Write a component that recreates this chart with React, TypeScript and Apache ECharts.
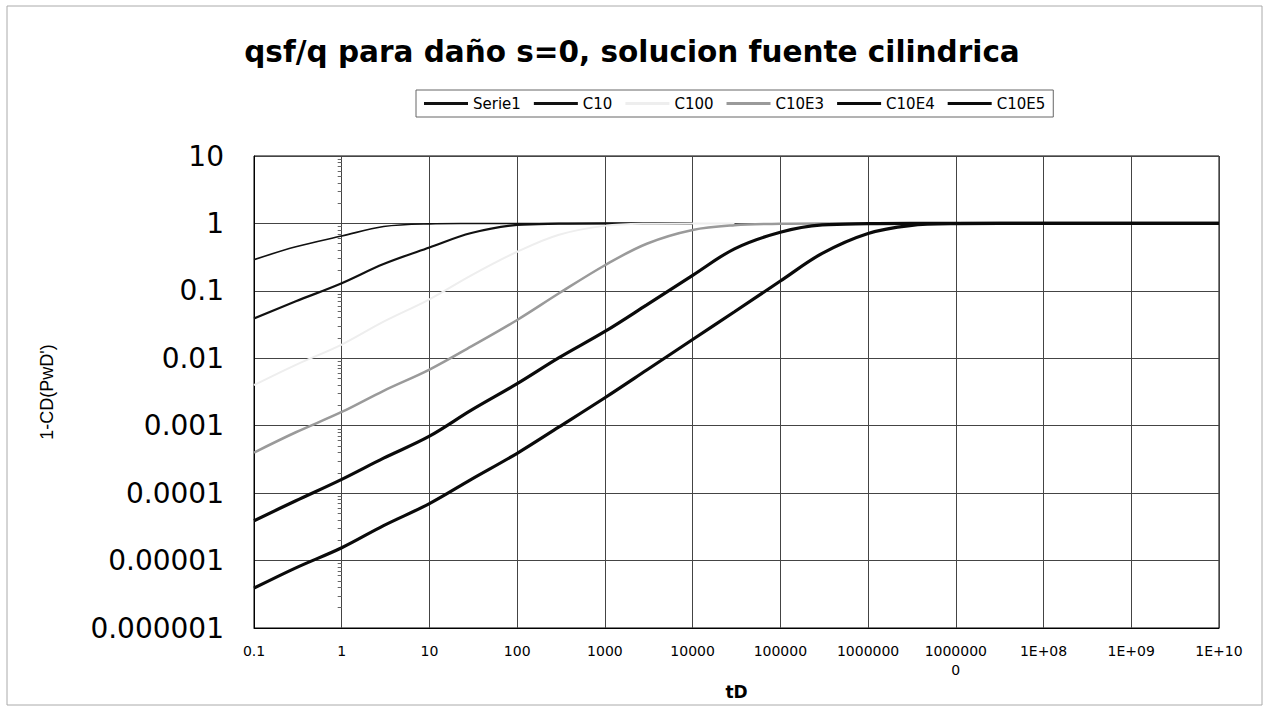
import React, { useEffect, useRef } from "react";
import * as echarts from "echarts";

const chartTitle = "qsf/q para daño s=0, solucion fuente cilindrica";
const xAxisName = "tD";
const yAxisName = "1-CD(PwD')";

const seriesNames = ["Serie1", "C10", "C100", "C10E3", "C10E4", "C10E5"];

const tD = [0.1, 0.3, 1, 3, 10, 30, 100, 300, 1000, 3000, 1e4, 3e4, 1e5, 3e5, 1e6, 3e6, 1e7, 1e8, 1e9, 1e10];

const serie1 = [0.29, 0.45, 0.65, 0.9, 0.985, 0.997, 1, 1, 1, 1, 1, null, null, null, null, null, null, null, null, null];
const c10 = [0.039, 0.07, 0.13, 0.25, 0.44, 0.72, 0.95, 0.99, 1, 1, 1, null, null, null, null, null, null, null, null, null];
const c100 = [0.004, 0.008, 0.016, 0.035, 0.075, 0.17, 0.38, 0.68, 0.92, 0.99, 1, 1, null, null, null, null, null, null, null, null];
const c10e3 = [0.0004, 0.0008, 0.0016, 0.0033, 0.0068, 0.015, 0.037, 0.092, 0.24, 0.5, 0.8, 0.94, 0.99, 1, 1, null, null, null, null, null];
const c10e4 = [0.000039, 0.000077, 0.00016, 0.00033, 0.0007, 0.0017, 0.0042, 0.0102, 0.025, 0.062, 0.17, 0.42, 0.74, 0.95, 0.99, 1, 1, 1, 1, 1];
const c10e5 = [0.0000039, 0.0000078, 0.0000155, 0.000033, 0.00007, 0.00016, 0.00039, 0.00096, 0.0026, 0.0067, 0.019, 0.049, 0.14, 0.36, 0.71, 0.93, 0.99, 1, 1, 1];

const xTickLabels = ["0.1", "1", "10", "100", "1000", "10000", "100000", "1000000", "1000000\n0", "1E+08", "1E+09", "1E+10"];
const yTickLabels = ["0.000001", "0.00001", "0.0001", "0.001", "0.01", "0.1", "1", "10"];

const seriesValues = [serie1, c10, c100, c10e3, c10e4, c10e5];
const seriesColors = ["#111111", "#111111", "#eeeeee", "#9a9a9a", "#0a0a0a", "#0a0a0a"];
const seriesWidths = [1.6, 2.2, 2, 2.5, 3.2, 3.2];

const ARIAL = "'Liberation Sans', Arial, sans-serif";
const WIDE = "'DejaVu Sans', 'Liberation Sans', sans-serif";

export default function App() {
  const ref = useRef<HTMLDivElement>(null);
  useEffect(() => {
    if (!ref.current) return;
    const chart = echarts.init(ref.current, undefined, { renderer: "svg" });
    const xMinExp = -1;
    const yMinExp = -6;
    const option: any = {
      animation: false,
      backgroundColor: "#ffffff",
      title: {
        text: chartTitle,
        left: "center",
        top: 32,
        textStyle: { fontFamily: WIDE, fontSize: 29.5, fontWeight: "bold", color: "#000" },
      },
      legend: {
        left: 416,
        top: 90,
        data: seriesNames,
        icon: "rect",
        itemWidth: 44,
        itemHeight: 3,
        itemGap: 13,
        padding: [6, 8],
        borderColor: "#666",
        borderWidth: 1,
        textStyle: { fontFamily: WIDE, fontSize: 15, color: "#000" },
      },
      graphic: [
        {
          type: "rect",
          shape: { x: 7, y: 6, width: 1255, height: 699 },
          style: { fill: "none", stroke: "#aaaaaa", lineWidth: 1 },
          silent: true,
        },
      ],
      grid: {
        left: 254,
        width: 965,
        top: 156,
        height: 472,
        show: true,
        borderColor: "#000",
        borderWidth: 1,
      },
      xAxis: {
        type: "log",
        logBase: 10,
        min: 0.1,
        max: 1e10,
        interval: 1,
        splitNumber: 11,
        name: xAxisName,
        nameLocation: "middle",
        nameGap: 52,
        nameTextStyle: { fontFamily: WIDE, fontSize: 17, fontWeight: "bold", color: "#000" },
        axisLine: { show: true, lineStyle: { color: "#000" } },
        axisTick: { show: false },
        splitLine: { show: true, lineStyle: { color: "#444", width: 1 } },
        axisLabel: {
          fontFamily: WIDE,
          fontSize: 14,
          color: "#000",
          margin: 13,
          lineHeight: 19,
          verticalAlign: "top",
          formatter: (v: number) => {
            const i = Math.round(Math.log10(v)) - xMinExp;
            return xTickLabels[i] ?? "";
          },
        },
      },
      yAxis: [
        {
          type: "log",
          logBase: 10,
          min: 1e-6,
          max: 10,
          interval: 1,
          splitNumber: 7,
          name: yAxisName,
          nameLocation: "middle",
          nameGap: 198,
          nameTextStyle: { fontFamily: ARIAL, fontSize: 18, color: "#000" },
          axisLine: { show: true, lineStyle: { color: "#000" } },
          axisTick: { show: false },
          splitLine: { show: true, lineStyle: { color: "#444", width: 1 } },
          axisLabel: {
            fontFamily: WIDE,
            fontSize: 28,
            color: "#000",
            margin: 30,
            formatter: (v: number) => {
              const i = Math.round(Math.log10(v)) - yMinExp;
              return yTickLabels[i] ?? "";
            },
          },
        },
        {
          type: "log",
          logBase: 10,
          min: 1e-6,
          max: 10,
          interval: 1,
          position: "left",
          offset: -87.7,
          axisLine: { show: false },
          axisLabel: { show: false },
          axisTick: { show: false },
          splitLine: { show: false },
          minorTick: { show: true, splitNumber: 9, length: 4, lineStyle: { color: "#666" } },
        },
      ],
      series: seriesNames.map((name, k) => ({
        name,
        type: "line",
        yAxisIndex: 0,
        showSymbol: false,
        symbol: "none",
        smooth: 0.35,
        data: tD
          .map((t, i) => [t, seriesValues[k][i]])
          .filter((p) => p[1] !== null),
        lineStyle: { color: seriesColors[k], width: seriesWidths[k] },
        itemStyle: { color: seriesColors[k] },
      })),
    };
    chart.setOption(option);
    return () => chart.dispose();
  }, []);
  return (
    <div
      ref={ref}
      style={{ position: "fixed", left: 0, top: 0, width: 1264, height: 711, background: "#fff" }}
    />
  );
}
